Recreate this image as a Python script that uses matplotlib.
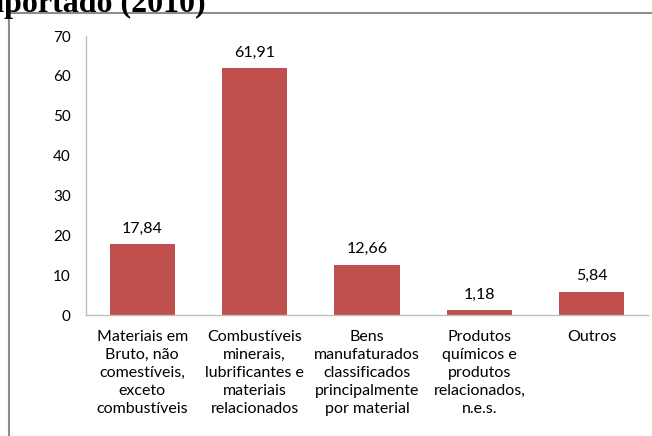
import matplotlib
matplotlib.use("Agg")
import matplotlib.pyplot as plt
from matplotlib.patches import Rectangle

categories = ["Materiais em\nBruto, não\ncomestíveis,\nexceto\ncombustíveis",
              "Combustíveis\nminerais,\nlubrificantes e\nmateriais\nrelacionados",
              "Bens\nmanufaturados\nclassificados\nprincipalmente\npor material",
              "Produtos\nquímicos e\nprodutos\nrelacionados,\nn.e.s.",
              "Outros"]
values = [17.84, 61.91, 12.66, 1.18, 5.84]
value_labels = ["17,84", "61,91", "12,66", "1,18", "5,84"]
yticks = [0, 10, 20, 30, 40, 50, 60, 70]

W, H = 652, 436
fig = plt.figure(figsize=(W/100, H/100), dpi=100)
plt.rcParams['font.family'] = ['Lato', 'DejaVu Sans']

# outer chart border (extends beyond right/bottom)
fig.patches.append(Rectangle((9/W, -0.1), 1.2, 1.1 - 13/H, transform=fig.transFigure,
                             fill=False, edgecolor='#8c8c8c', linewidth=1.5))

fig.text(206/W, 1 - 12/H, "Importado (2010)", fontfamily='Liberation Serif',
         fontweight='bold', fontsize=23, va='baseline', ha='right', color='black')

ax = fig.add_axes([86/W, 1 - 315/H, (648 - 86)/W, (315 - 36)/H])
x = list(range(len(categories)))
ax.bar(x, values, width=0.58, color='#C0504D')
ax.set_xlim(-0.5, len(categories) - 0.5)
ax.set_ylim(0, 70)
ax.set_yticks(yticks)
ax.set_yticklabels([str(t) for t in yticks], fontsize=11)
ax.set_xticks(x)
ax.set_xticklabels(categories, fontsize=11.5, linespacing=1.36)
ax.tick_params(axis='y', length=0, pad=11, colors='black')
ax.tick_params(axis='x', length=0, pad=11, colors='black')
for s in ['top', 'right']:
    ax.spines[s].set_visible(False)
for s in ['left', 'bottom']:
    ax.spines[s].set_color('#bfbfbf')
    ax.spines[s].set_linewidth(1)
for xi, v, lab in zip(x, values, value_labels):
    ax.annotate(lab, (xi, v), xytext=(0, 6), textcoords='offset points',
                ha='center', va='bottom', fontsize=11.5)

fig.savefig("out.png", dpi=100)
